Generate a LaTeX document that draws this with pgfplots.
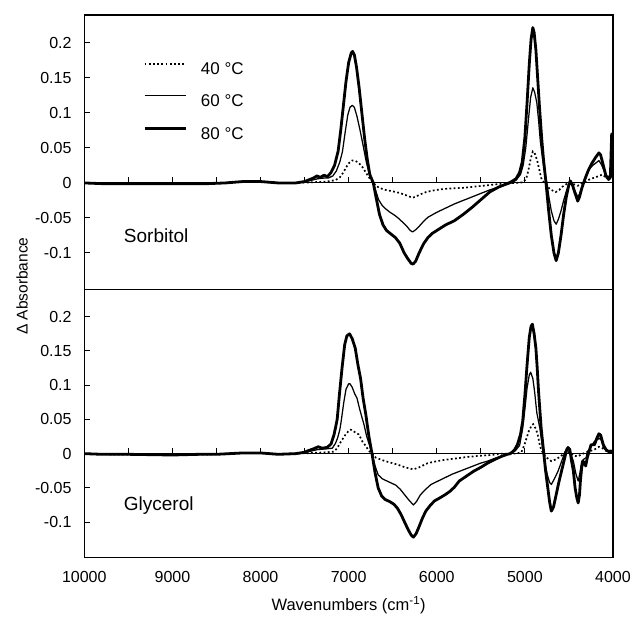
\documentclass[border=0pt]{standalone}
\usepackage{fontspec}
\setmainfont{Liberation Sans}
\usepackage{pgfplots}
\pgfplotsset{compat=1.18}
\usepackage{pgfplotstable}

% ---------------- Sorbitol (top) ----------------
\pgfplotstableread{
wn v
10000 0
9800 -0.001
9000 -0.001
8600 -0.001
8400 0
8200 0.002
8000 0.002
7800 0
7600 0
7400 0.001
7250 0.002
7150 0.004
7100 0.008
7060 0.015
7030 0.022
7000 0.028
6960 0.032
6930 0.032
6890 0.029
6850 0.024
6810 0.016
6770 0.008
6720 0.000
6680 -0.005
6630 -0.008
6580 -0.010
6500 -0.012
6430 -0.014
6360 -0.017
6300 -0.020
6270 -0.021
6230 -0.019
6180 -0.016
6120 -0.013
6050 -0.011
5950 -0.009
5850 -0.008
5700 -0.007
5550 -0.005
5400 -0.003
5250 -0.001
5100 0.000
5020 0.001
4985 0.006
4960 0.018
4935 0.034
4910 0.045
4890 0.043
4860 0.032
4835 0.018
4815 0.007
4780 0.000
4740 -0.006
4700 -0.010
4650 -0.013
4610 -0.010
4570 -0.005
4520 -0.001
4490 0.000
4440 -0.002
4400 -0.004
4360 -0.001
4300 0.003
4250 0.006
4200 0.008
4160 0.010
4120 0.012
4090 0.009
4050 0.008
4020 0.012
4005 0.010
}\topA

\pgfplotstableread{
wn v
10000 0
9800 -0.001
9000 -0.001
8600 -0.001
8400 0
8200 0.002
8000 0.002
7800 0
7600 0
7450 0.003
7350 0.006
7280 0.007
7230 0.007
7180 0.010
7140 0.017
7100 0.030
7070 0.045
7040 0.072
7010 0.097
6985 0.108
6960 0.111
6935 0.108
6905 0.095
6870 0.075
6835 0.053
6800 0.030
6770 0.015
6720 0.000
6690 -0.012
6660 -0.024
6620 -0.032
6580 -0.037
6530 -0.042
6480 -0.046
6430 -0.051
6380 -0.057
6340 -0.062
6300 -0.068
6275 -0.070
6240 -0.067
6200 -0.062
6150 -0.055
6100 -0.049
6000 -0.042
5900 -0.036
5800 -0.030
5700 -0.025
5600 -0.020
5500 -0.015
5400 -0.010
5300 -0.006
5200 -0.002
5150 0.000
5100 0.004
5050 0.012
5020 0.025
4990 0.050
4960 0.090
4935 0.122
4910 0.136
4890 0.130
4865 0.115
4845 0.090
4825 0.060
4800 0.035
4780 0.018
4750 0.000
4725 -0.022
4700 -0.040
4670 -0.054
4645 -0.059
4620 -0.052
4590 -0.040
4560 -0.025
4530 -0.012
4500 -0.002
4485 0.002
4460 -0.003
4430 -0.012
4400 -0.020
4380 -0.016
4350 -0.005
4310 0.010
4270 0.020
4230 0.025
4190 0.029
4160 0.032
4130 0.026
4100 0.017
4070 0.010
4040 0.009
4020 0.030
4005 0.012
}\topB

\pgfplotstableread{
wn v
10000 0
9800 -0.001
9500 -0.001
9000 -0.001
8600 -0.001
8400 0.000
8200 0.002
8000 0.002
7900 0.001
7800 0.000
7600 0
7500 0.002
7440 0.005
7400 0.007
7360 0.010
7320 0.008
7280 0.011
7240 0.009
7200 0.015
7160 0.025
7120 0.045
7090 0.075
7060 0.110
7030 0.145
7000 0.172
6970 0.186
6955 0.188
6935 0.183
6910 0.165
6880 0.135
6850 0.100
6820 0.065
6790 0.035
6760 0.012
6720 0.000
6690 -0.020
6650 -0.045
6610 -0.060
6570 -0.068
6520 -0.073
6470 -0.078
6420 -0.086
6370 -0.100
6330 -0.108
6290 -0.115
6270 -0.116
6240 -0.112
6200 -0.100
6150 -0.087
6100 -0.078
6050 -0.072
6000 -0.068
5950 -0.064
5900 -0.060
5800 -0.054
5700 -0.045
5600 -0.035
5500 -0.024
5400 -0.013
5300 -0.006
5200 -0.001
5150 0.002
5100 0.006
5060 0.015
5030 0.030
5000 0.065
4975 0.115
4950 0.170
4930 0.205
4910 0.222
4895 0.215
4875 0.190
4855 0.150
4835 0.110
4810 0.065
4790 0.035
4760 0.000
4730 -0.040
4700 -0.075
4670 -0.100
4645 -0.111
4620 -0.100
4590 -0.075
4560 -0.045
4530 -0.020
4500 -0.002
4485 0.003
4460 -0.003
4430 -0.015
4400 -0.026
4380 -0.020
4355 -0.008
4320 0.005
4280 0.018
4240 0.028
4200 0.036
4160 0.043
4140 0.040
4110 0.025
4080 0.010
4050 0.005
4030 0.008
4015 0.070
4005 0.020
}\topC

% ---------------- Glycerol (bottom) ----------------
\pgfplotstableread{
wn v
10000 0
9800 -0.001
9000 -0.002
8500 -0.001
8200 0.001
8000 0.001
7800 -0.001
7600 0
7400 0.001
7250 0.002
7165 0.003
7130 0.008
7085 0.018
7040 0.027
6995 0.034
6975 0.035
6950 0.033
6885 0.028
6845 0.018
6805 0.011
6770 0.004
6735 0.000
6690 -0.006
6585 -0.011
6500 -0.014
6445 -0.016
6360 -0.020
6265 -0.023
6200 -0.020
6105 -0.014
6000 -0.011
5905 -0.009
5780 -0.007
5665 -0.005
5500 -0.003
5385 -0.002
5260 0.000
5100 0.000
5040 0.002
5005 0.013
4955 0.033
4920 0.042
4905 0.043
4875 0.036
4855 0.028
4830 0.012
4815 0.006
4790 0.000
4750 -0.006
4700 -0.011
4660 -0.009
4605 -0.005
4560 0.000
4525 0.003
4480 0.001
4450 -0.003
4395 -0.004
4360 -0.001
4300 0.002
4210 0.006
4160 0.010
4120 0.008
4080 0.004
4050 0.002
4005 0.002
}\botA

\pgfplotstableread{
wn v
10000 0
9800 -0.001
9000 -0.002
8500 -0.001
8200 0.001
8000 0.001
7800 -0.001
7600 0
7450 0.003
7350 0.006
7250 0.007
7185 0.008
7150 0.015
7125 0.023
7100 0.035
7085 0.047
7055 0.075
7030 0.094
7000 0.102
6985 0.102
6960 0.097
6930 0.087
6905 0.081
6875 0.065
6825 0.042
6795 0.025
6765 0.013
6735 0.000
6700 -0.018
6665 -0.031
6615 -0.037
6565 -0.040
6515 -0.043
6465 -0.046
6415 -0.052
6365 -0.060
6315 -0.068
6265 -0.075
6230 -0.070
6185 -0.060
6125 -0.052
6065 -0.045
5985 -0.040
5905 -0.035
5825 -0.030
5745 -0.026
5665 -0.022
5585 -0.018
5505 -0.014
5425 -0.011
5345 -0.007
5265 -0.004
5180 0.000
5110 0.004
5060 0.012
5025 0.037
5000 0.065
4975 0.096
4950 0.115
4935 0.119
4910 0.110
4890 0.091
4865 0.060
4830 0.037
4790 0.000
4770 -0.015
4745 -0.031
4720 -0.042
4700 -0.045
4670 -0.038
4625 -0.026
4585 -0.012
4545 0.003
4510 0.007
4485 0.002
4450 -0.011
4420 -0.030
4395 -0.040
4375 -0.028
4355 -0.011
4330 -0.008
4305 -0.006
4290 0.003
4250 0.010
4210 0.018
4170 0.021
4160 0.023
4135 0.020
4105 0.008
4070 0.004
4050 0.003
4020 0.003
4005 0.002
}\botB

\pgfplotstableread{
wn v
10000 0
9800 -0.001
9500 -0.001
9000 -0.002
8700 -0.001
8500 -0.001
8200 0.001
8000 0.001
7800 -0.001
7600 0
7500 0.002
7465 0.004
7400 0.007
7345 0.010
7300 0.008
7245 0.009
7200 0.014
7165 0.028
7130 0.050
7105 0.086
7075 0.125
7045 0.159
7020 0.172
6990 0.175
6960 0.168
6925 0.154
6895 0.130
6865 0.110
6835 0.080
6805 0.057
6770 0.025
6735 0.000
6700 -0.028
6665 -0.050
6625 -0.062
6585 -0.067
6535 -0.070
6485 -0.074
6445 -0.080
6405 -0.089
6365 -0.100
6325 -0.111
6290 -0.119
6265 -0.122
6235 -0.117
6205 -0.108
6165 -0.095
6125 -0.084
6070 -0.075
6025 -0.069
5970 -0.065
5905 -0.060
5850 -0.055
5800 -0.049
5745 -0.040
5665 -0.033
5585 -0.026
5500 -0.020
5425 -0.014
5350 -0.009
5265 -0.004
5200 -0.001
5165 0.000
5120 0.005
5085 0.013
5050 0.028
5025 0.047
5000 0.085
4975 0.130
4950 0.170
4930 0.186
4915 0.189
4895 0.175
4875 0.154
4860 0.125
4845 0.091
4825 0.055
4815 0.037
4785 0.000
4765 -0.025
4745 -0.045
4720 -0.070
4700 -0.084
4675 -0.078
4645 -0.060
4615 -0.042
4585 -0.026
4555 -0.010
4525 0.006
4510 0.009
4490 0.006
4470 -0.011
4450 -0.025
4430 -0.050
4410 -0.065
4395 -0.072
4380 -0.060
4370 -0.040
4355 -0.020
4340 -0.011
4325 -0.014
4310 -0.018
4290 -0.005
4260 0.008
4250 0.013
4210 0.013
4185 0.022
4160 0.029
4140 0.027
4110 0.013
4080 0.006
4050 0.003
4020 0.004
4005 0.001
}\botC

\pgfplotstableread{
wn v
9500 0.008
9000 0.008
8500 0.008
8000 0.008
7500 0.008
7000 0.008
6500 0.008
6000 0.008
5500 0.008
5000 0.008
4500 0.008
}\zticks

\pgfplotsset{
  panel/.style={
    scale only axis, width=528.7pt,
    xmin=4000, xmax=10000, x dir=reverse,
    ymin=-0.152, ymax=0.24,
    scaled x ticks=false, scaled y ticks=false,
    ytick={-0.1,-0.05,0,0.05,0.1,0.15,0.2},
    yticklabels={-0.1,-0.05,0,0.05,0.1,0.15,0.2},
    ytick pos=left, tick align=inside, major tick length=5.7pt,
    axis line style={line width=1.3pt},
    every tick/.style={black, line width=1pt},
    yticklabel style={anchor=east, inner sep=0pt, xshift=-12.6pt,
      font=\fontsize{16}{18}\selectfont},
    legend image code/.code={\draw[#1] (0pt,6pt) -- (41pt,6pt);},
  },
  l40/.style={black, line width=1.7pt, dash pattern=on 1.8pt off 2.4pt},
  l60/.style={black, line width=1.25pt, line join=round},
  l80/.style={black, line width=2.8pt, line join=round},
}

\begin{document}
\begin{tikzpicture}
\path[use as bounding box] (0pt,0pt) rectangle (634pt,-616pt);

% ---- top panel: Sorbitol ----
\begin{axis}[panel,
  at={(84.3pt,-289.3pt)}, anchor=south west, height=274.3pt,
  xtick=\empty,
  legend cell align=left,
  legend style={draw=none, fill=none, at={(rel axis cs:0.111,0.826)},
    anchor=north west, inner sep=0pt, row sep=18.6pt,
    font=\fontsize{17}{19}\selectfont, nodes={inner sep=0pt},
    /tikz/every odd column/.append style={column sep=14pt}},
]
\addplot[black, line width=0.9pt, forget plot] coordinates {(10000,0) (4000,0)};
\addplot[ycomb, black, line width=0.8pt, forget plot] table[x=wn,y=v] {\zticks};
\addplot[l40] table[x=wn,y=v] {\topA};
\addlegendentry{40 °C}
\addplot[l60] table[x=wn,y=v] {\topB};
\addlegendentry{60 °C}
\addplot[l80] table[x=wn,y=v] {\topC};
\addlegendentry{80 °C}
\node[anchor=west, inner sep=0pt, font=\fontsize{19}{21}\selectfont]
  at (rel axis cs:0.0747,0.195) {Sorbitol};
\end{axis}

% ---- bottom panel: Glycerol ----
\begin{axis}[panel,
  at={(84.3pt,-557.7pt)}, anchor=south west, height=268.4pt,
  xtick={4000,5000,6000,7000,8000,9000,10000},
  xticklabels={4000,5000,6000,7000,8000,9000,10000},
  xtick style={draw=none},
  xticklabel style={anchor=center, yshift=-19pt, font=\fontsize{16}{18}\selectfont},
  xlabel={Wavenumbers (cm\textsuperscript{-1})},
  xlabel style={at={(rel axis cs:0.5,-0.176)}, anchor=center,
    font=\fontsize{16.5}{19}\selectfont},
  ylabel={Δ Absorbance},
  ylabel style={at={(rel axis cs:-0.1178,1.012)}, anchor=center,
    font=\fontsize{15.5}{18}\selectfont},
]
\addplot[black, line width=0.9pt, forget plot] coordinates {(10000,0) (4000,0)};
\addplot[ycomb, black, line width=0.8pt, forget plot] table[x=wn,y=v] {\zticks};
\addplot[l40] table[x=wn,y=v] {\botA};
\addplot[l60] table[x=wn,y=v] {\botB};
\addplot[l80] table[x=wn,y=v] {\botC};
\node[anchor=west, inner sep=0pt, font=\fontsize{19}{21}\selectfont]
  at (rel axis cs:0.0745,0.196) {Glycerol};
\end{axis}
\end{tikzpicture}
\end{document}
